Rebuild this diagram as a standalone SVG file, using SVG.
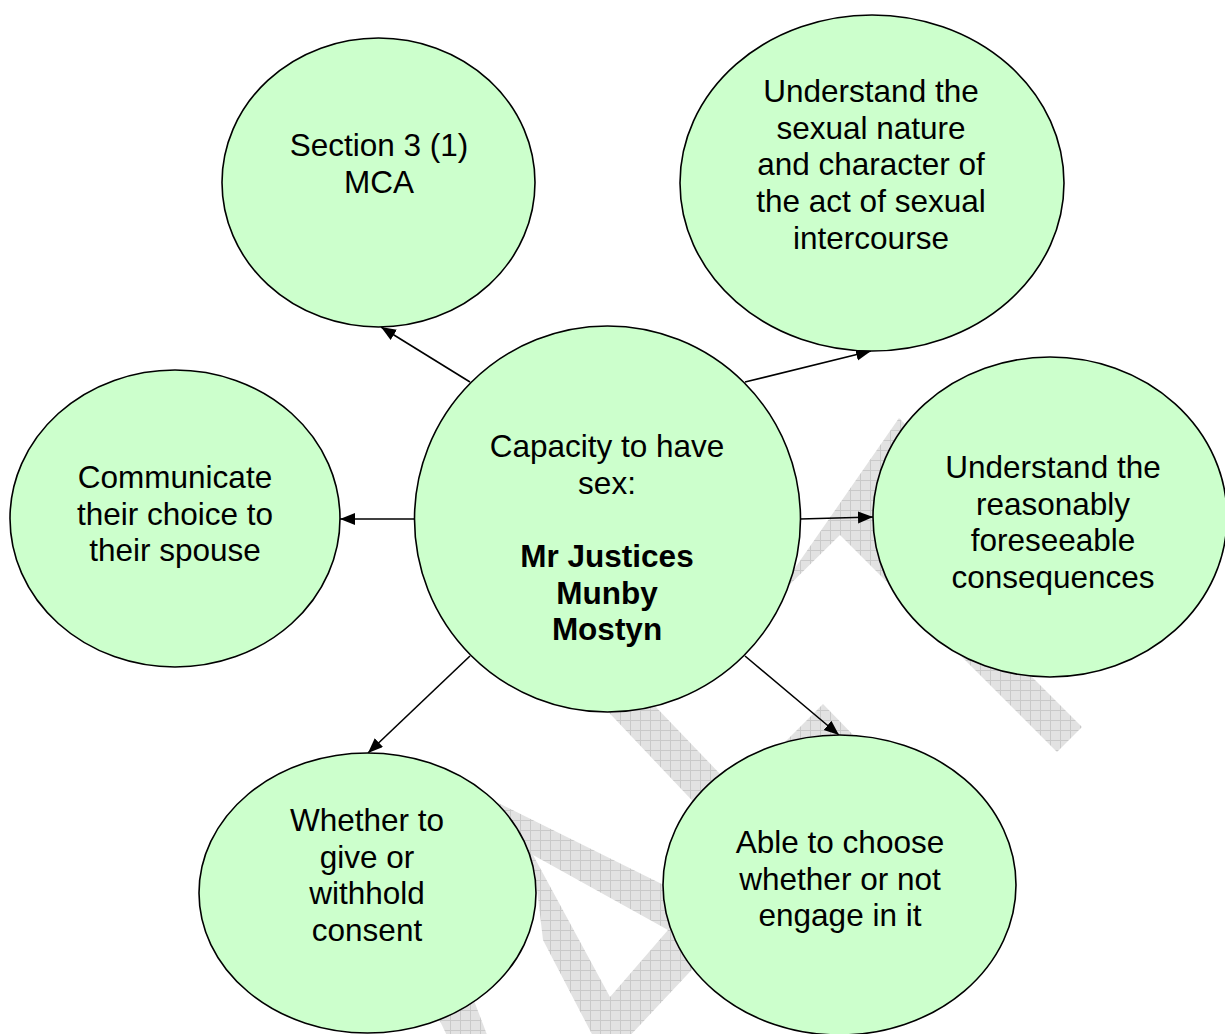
<svg xmlns="http://www.w3.org/2000/svg" width="1225" height="1034" viewBox="0 0 1225 1034">
<defs>
<pattern id="hatch" width="10" height="10" patternUnits="userSpaceOnUse">
<rect width="10" height="10" fill="#e2e2e2"/>
<path d="M0,0.5 H10 M0.5,0 V10" stroke="#c9c9c9" stroke-width="1"/>
</pattern>
<marker id="arr" markerUnits="userSpaceOnUse" markerWidth="16" markerHeight="13" refX="15" refY="6" orient="auto">
<path d="M0,0 L15,6 L0,12 z" fill="#000"/>
</marker>
<style>
.node ellipse{fill:#ccffcc;stroke:#000;stroke-width:1.6}
.node text{font-family:"Liberation Sans",Arial,sans-serif;font-size:31.5px;fill:#000;text-anchor:middle}
.b{font-weight:bold}
.wm{fill:url(#hatch);stroke:none}
#connectors line{stroke:#000;stroke-width:1.6;marker-end:url(#arr)}
</style>
</defs>
<rect width="1225" height="1034" fill="#fff"/>
<g id="watermark">
<polygon class="wm" points="770,604 899,418 906,425 1020,665 1082,727 1057,752 840,535"/>
<polygon class="wm" points="580,682 630,680 745,800 720,830"/>
<polygon class="wm" points="778,749 823,704 860,742 840,770 800,770"/>
<path class="wm" fill-rule="evenodd" d="M480,794 L700,903 L700,961 L626,1040 L595,1040 L543,940 L535,872 L500,820 Z M533,855 L668,930 L610,997 Z"/>
<polygon class="wm" points="430,1000 470,990 489,1040 449,1040"/>
</g>
<g id="connectors">
<line x1="470" y1="382" x2="381" y2="327"/>
<line x1="745" y1="382" x2="871" y2="351"/>
<line x1="415" y1="519" x2="340" y2="519"/>
<line x1="800" y1="519" x2="873" y2="517"/>
<line x1="470" y1="656" x2="368" y2="753"/>
<line x1="745" y1="656" x2="839" y2="735"/>
</g>
<g id="node-section3" class="node">
<ellipse cx="378.5" cy="182.5" rx="156.5" ry="144.5"/>
<text x="379" y="156">Section 3 (1)</text>
<text x="379" y="193">MCA</text>
</g>
<g id="node-sexual-nature" class="node">
<ellipse cx="872" cy="183" rx="192" ry="168"/>
<text x="871" y="102">Understand the</text>
<text x="871" y="138.7">sexual nature</text>
<text x="871" y="175.4">and character of</text>
<text x="871" y="212.1">the act of sexual</text>
<text x="871" y="248.8">intercourse</text>
</g>
<g id="node-communicate" class="node">
<ellipse cx="175" cy="518.5" rx="165" ry="148.5"/>
<text x="175" y="488">Communicate</text>
<text x="175" y="524.7">their choice to</text>
<text x="175" y="561.4">their spouse</text>
</g>
<g id="node-consequences" class="node">
<ellipse cx="1050" cy="517" rx="177" ry="160"/>
<text x="1053" y="478">Understand the</text>
<text x="1053" y="514.7">reasonably</text>
<text x="1053" y="551.4">foreseeable</text>
<text x="1053" y="588.1">consequences</text>
</g>
<g id="node-consent" class="node">
<ellipse cx="367.5" cy="893" rx="168.5" ry="140"/>
<text x="367" y="831">Whether to</text>
<text x="367" y="867.7">give or</text>
<text x="367" y="904.4">withhold</text>
<text x="367" y="941.1">consent</text>
</g>
<g id="node-choose" class="node">
<ellipse cx="839.5" cy="885" rx="176.5" ry="150"/>
<text x="840" y="853">Able to choose</text>
<text x="840" y="889.7">whether or not</text>
<text x="840" y="926.4">engage in it</text>
</g>
<g id="node-center" class="node">
<ellipse cx="607.5" cy="519" rx="193" ry="193"/>
<text x="607" y="457">Capacity to have</text>
<text x="607" y="493.7">sex:</text>
<text class="b" x="607" y="567">Mr Justices</text>
<text class="b" x="607" y="603.7">Munby</text>
<text class="b" x="607" y="640.4">Mostyn</text>
</g>
</svg>
